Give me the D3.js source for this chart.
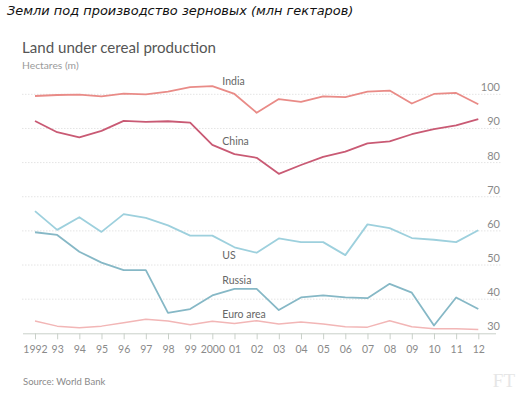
<!DOCTYPE html>
<html>
<head>
<meta charset="utf-8">
<script src="https://cdn.jsdelivr.net/npm/d3@7"></script>
<style>
  body { margin: 0; background: #fff; }
  svg { display: block; }
</style>
</head>
<body>
<svg width="529" height="398"></svg>
<script>
var years = d3.range(1992, 2013);
var yearLabels = ["1992","93","94","95","96","97","98","99","2000","01","02","03","04","05","06","07","08","09","10","11","12"];
var yTicks = [30, 40, 50, 60, 70, 80, 90, 100];

var india  = [99.5, 99.8, 99.9, 99.4, 100.2, 100.0, 100.8, 102.1, 102.4, 100.1, 94.6, 98.6, 97.8, 99.4, 99.2, 100.8, 101.1, 97.3, 100.1, 100.4, 97.1];
var china  = [92.2, 88.9, 87.4, 89.3, 92.2, 91.9, 92.1, 91.7, 85.2, 82.5, 81.4, 76.7, 79.3, 81.7, 83.2, 85.6, 86.2, 88.3, 89.8, 90.9, 92.7];
var us     = [65.8, 60.3, 64.0, 59.7, 64.9, 63.8, 61.6, 58.6, 58.6, 55.2, 53.6, 57.8, 56.7, 56.7, 52.9, 61.9, 60.8, 57.9, 57.4, 56.7, 60.2];
var russia = [59.6, 58.8, 53.9, 50.7, 48.5, 48.5, 36.0, 37.1, 41.1, 43.0, 43.0, 36.8, 40.5, 41.1, 40.5, 40.3, 44.5, 41.9, 32.3, 40.5, 37.1];
var euro   = [33.6, 32.1, 31.6, 32.1, 33.1, 34.1, 33.6, 32.5, 33.5, 32.9, 33.7, 32.7, 33.3, 32.7, 31.9, 31.8, 33.7, 31.9, 31.3, 31.3, 31.1];

var seriesNames = ["India", "China", "US", "Russia", "Euro area"];
var seriesValues = [india, china, us, russia, euro];
var seriesColors = ["#e98b87", "#c95a74", "#9dd0dd", "#86b8c6", "#f2b6b6"];
var labelYears = [2000, 2000, 2000, 2000, 2000];
var labelDy = [-1, 0, 23, -11, -3];

var svg = d3.select("svg");

var x = d3.scaleLinear().domain([1992, 2012]).range([35, 478.3]);
var y = d3.scaleLinear().domain([30, 100]).range([333.3, 94.3]);

// headings
svg.append("text")
    .attr("x", 7).attr("y", 15)
    .attr("font-family", "DejaVu Sans, sans-serif")
    .attr("font-style", "italic")
    .attr("font-size", 12.95)
    .attr("fill", "#111")
    .text("Земли под производство зерновых (млн гектаров)");

svg.append("text")
    .attr("x", 22).attr("y", 53)
    .attr("font-family", "Lato, sans-serif")
    .attr("font-size", 15.1)
    .attr("fill", "#555")
    .text("Land under cereal production");

svg.append("text")
    .attr("x", 22).attr("y", 69)
    .attr("font-family", "Lato, sans-serif")
    .attr("font-size", 10.3)
    .attr("fill", "#9a9a9a")
    .text("Hectares (m)");

// grid
svg.append("g")
  .selectAll("line")
  .data(yTicks.filter(function(d) { return d > 30; }))
  .enter().append("line")
    .attr("x1", 22).attr("x2", 501)
    .attr("y1", function(d) { return y(d); })
    .attr("y2", function(d) { return y(d); })
    .attr("stroke", "#e4e4e4")
    .attr("stroke-width", 1)
    .attr("stroke-dasharray", "1.5,1.5");

// right tick labels
svg.append("g")
  .selectAll("text")
  .data(yTicks)
  .enter().append("text")
    .attr("x", 500)
    .attr("y", function(d) { return y(d) - 3; })
    .attr("text-anchor", "end")
    .attr("font-family", "Lato, sans-serif")
    .attr("font-size", 11)
    .attr("fill", "#8a8a8a")
    .text(function(d) { return d; });

// x axis
var xAxis = svg.append("g")
    .attr("transform", "translate(0," + y(30) + ")")
    .call(d3.axisBottom(x)
      .tickValues(years)
      .tickSize(6)
      .tickPadding(6)
      .tickFormat(function(d, i) { return yearLabels[i]; }));
xAxis.select(".domain").attr("d", "M23,0.5H496").attr("stroke", "#c9d0c9");
xAxis.selectAll(".tick line").attr("stroke", "#c9d0c9");
xAxis.selectAll(".tick text")
    .attr("font-family", "Lato, sans-serif")
    .attr("font-size", 10.5)
    .attr("fill", "#8a8a8a");

// lines
var line = d3.line()
    .x(function(d, i) { return x(years[i]); })
    .y(function(d) { return y(d); });

svg.append("g")
  .selectAll("path")
  .data(seriesValues)
  .enter().append("path")
    .attr("d", line)
    .attr("fill", "none")
    .attr("stroke", function(d, i) { return seriesColors[i]; })
    .attr("stroke-width", function(d, i) { return i === 4 ? 1.5 : 1.8; })
    .attr("stroke-linejoin", "round");

// series labels
svg.append("g")
  .selectAll("text")
  .data(seriesNames)
  .enter().append("text")
    .attr("x", function(d, i) { return x(labelYears[i]) + 10; })
    .attr("y", function(d, i) { return y(seriesValues[i][years.indexOf(labelYears[i])]) + labelDy[i]; })
    .attr("font-family", "Lato, sans-serif")
    .attr("font-size", 10.5)
    .attr("fill", "#666")
    .text(function(d) { return d; });

// footer
svg.append("text")
    .attr("x", 23).attr("y", 385)
    .attr("font-family", "Lato, sans-serif")
    .attr("font-size", 9.5)
    .attr("fill", "#8a8a8a")
    .text("Source: World Bank");

svg.append("text")
    .attr("x", 515).attr("y", 387)
    .attr("text-anchor", "end")
    .attr("font-family", "Liberation Serif, serif")
    .attr("font-size", 19)
    .attr("fill", "#e6e6e6")
    .text("FT");
</script>
</body>
</html>
